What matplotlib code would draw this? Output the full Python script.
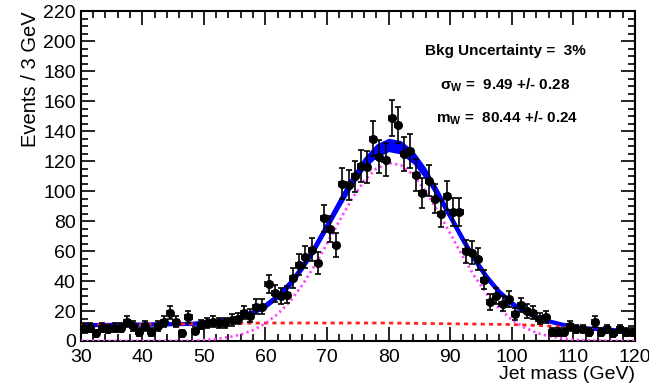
import numpy as np
import matplotlib
matplotlib.use("Agg")
import matplotlib.pyplot as plt
from matplotlib.ticker import MultipleLocator

plt.rcParams['font.family'] = ['Liberation Sans', 'DejaVu Sans']
plt.rcParams['mathtext.fontset'] = 'custom'
plt.rcParams['mathtext.rm'] = 'Liberation Sans:bold'
plt.rcParams['mathtext.it'] = 'Liberation Sans:bold'
plt.rcParams['mathtext.bf'] = 'Liberation Sans:bold'

# data points (1 GeV bins, 30.5 ... 119.5)
mass = np.arange(30.5, 120.0, 1.0)
events = [9, 9, 5, 9, 8, 9, 9, 13, 10, 6,
          10, 6, 10, 13, 19, 13, 5, 16, 7, 11,
          12, 13, 12, 12, 14, 15, 19, 17, 23, 23,
          38, 32, 30, 31, 42, 51, 56, 61, 52, 82,
          75, 64, 105, 104, 110, 117, 116, 135, 123, 121,
          149, 144, 125, 127, 111, 99, 107, 95, 85, 97,
          86, 86, 60, 59, 55, 41, 26, 30, 25, 28,
          18, 24, 20, 19, 15, 16, 6, 6, 6, 10,
          8, 8, 6, 13, 6, 8, 5, 8, 6, 6]

# fit curves every 2 GeV
curve_x = np.arange(30, 121, 2)
total_fit = [10.5, 10.6, 10.7, 10.8, 10.9, 11.0, 11.1, 11.2, 11.3, 11.4,
             12.2, 12.9, 14.2, 16.1, 19.2, 23.7, 30.0, 38.5, 49.4, 62.4,
             77.0, 92.2, 106.5, 118.7, 127.1, 130.9, 129.3, 122.7, 111.9, 98.2,
             83.2, 68.1, 54.2, 42.2, 32.6, 25.2, 19.7, 15.9, 13.2, 11.1,
             9.5, 8.5, 7.9, 7.4, 6.9, 6.5]
band_half = [1.0, 1.0, 1.0, 1.0, 1.0, 1.0, 1.0, 1.0, 1.0, 1.0,
             1.0, 1.0, 1.0, 1.0, 1.5, 2.0, 2.0, 2.5, 2.5, 3.0,
             3.0, 3.5, 4.0, 4.0, 4.5, 4.5, 4.5, 4.5, 4.0, 3.5,
             3.0, 3.0, 2.5, 2.5, 2.0, 2.0, 1.5, 1.0, 1.0, 1.0,
             1.0, 1.0, 1.0, 1.0, 1.0, 1.0]
background = [10.5, 10.6, 10.7, 10.8, 10.9, 11.0, 11.1, 11.2, 11.3, 11.4,
              11.5, 11.6, 11.7, 11.8, 11.9, 12.0, 12.0, 12.0, 12.0, 12.0,
              12.0, 12.0, 12.0, 12.0, 12.0, 12.0, 11.9, 11.8, 11.7, 11.6,
              11.5, 11.4, 11.3, 11.2, 11.1, 11.0, 10.7, 10.4, 10.0, 9.3,
              8.6, 8.1, 7.7, 7.3, 6.9, 6.5]
signal = [0, 0, 0, 0, 0, 0, 0, 0, 0, 0,
          0.7, 1.3, 2.5, 4.3, 7.3, 11.7, 18.0, 26.5, 37.4, 50.4,
          65.0, 80.2, 94.5, 106.7, 115.1, 118.9, 117.4, 110.9, 100.2, 86.6,
          71.7, 56.7, 42.9, 31.0, 21.5, 14.2, 9.0, 5.5, 3.2, 1.8,
          0.9, 0.4, 0.2, 0.1, 0, 0]

W, H = 649, 383
fig = plt.figure(figsize=(W / 100, H / 100), dpi=100)
ax = fig.add_axes([0.1243, 0.1097, 0.9784 - 0.1243, 0.970 - 0.1097])

total = np.array(total_fit)
band = np.array(band_half)
ax.fill_between(curve_x, total - band, total + band, color='#0000ff', lw=0, zorder=2)
ax.plot(curve_x, total, color='#0000ff', lw=3, zorder=2)
ax.plot(curve_x, background, color='#ff2020', lw=2, ls=(0, (1.5, 1.5)), zorder=3)
ax.plot(curve_x, signal, color='#ff44ff', lw=2, ls=(0, (0.8, 1.2)), zorder=3)

ax.errorbar(mass, events, yerr=np.sqrt(events), xerr=0.5, fmt='o', color='black',
            ms=5.5, elinewidth=1.2, capsize=2, capthick=1.2, zorder=4)

ax.set_xlim(30, 120)
ax.set_ylim(0, 220)
ax.xaxis.set_major_locator(MultipleLocator(10))
ax.xaxis.set_minor_locator(MultipleLocator(2))
ax.yaxis.set_major_locator(MultipleLocator(20))
ax.yaxis.set_minor_locator(MultipleLocator(5))
ax.tick_params(which='both', direction='in', top=True, right=True, labelsize=14, width=1.2)
ax.tick_params(axis='x', pad=6)
ax.tick_params(which='major', length=10)
ax.tick_params(which='minor', length=5)
for s in ax.spines.values():
    s.set_linewidth(1.5)

ax.set_xlabel('Jet mass (GeV)', fontsize=14, loc='right', labelpad=0)
ax.set_ylabel('Events / 3 GeV', fontsize=14.5, loc='top', labelpad=2)

# annotation block, positions given in picture pixels from the top-left
notes = [
    (505, 51, 'Bkg Uncertainty =  3%'),
    (505, 85, r'$\sigma_{W}$ =  9.49 +/- 0.28'),
    (507, 118, r'm$_{W}$ =  80.44 +/- 0.24'),
]
for px, py, txt in notes:
    fig.text(px / W, 1 - py / H, txt, fontsize=11, fontweight='bold',
             ha='center', va='center')

fig.savefig('out.png', dpi=100)
